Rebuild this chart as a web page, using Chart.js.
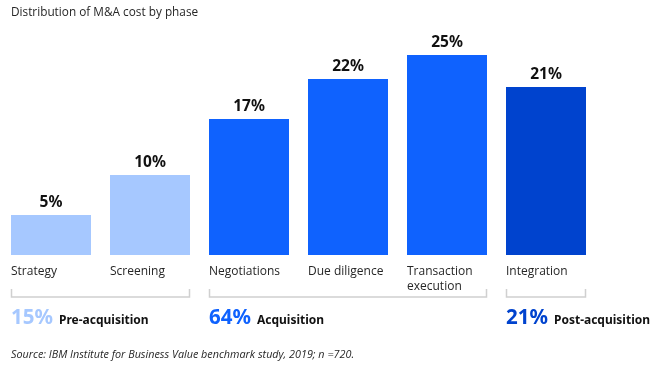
<!DOCTYPE html>
<html><head><meta charset="utf-8">
<script src="https://cdn.jsdelivr.net/npm/chart.js@4/dist/chart.umd.min.js"></script>
<style>html,body{margin:0;padding:0;background:#fff}#wrap{width:657px;height:375px;position:relative}</style>
</head><body><div id="wrap"><canvas id="c"></canvas></div>
<script>
const title = "Distribution of M&A cost by phase";
const source = "Source: IBM Institute for Business Value benchmark study, 2019; n =720.";
const categories = ["Strategy", "Screening", "Negotiations", "Due diligence", ["Transaction", "execution"], "Integration"];
const values = [5, 10, 17, 22, 25, 21];
const barGroup = [0, 0, 1, 1, 1, 2];
const groupNames = ["Pre-acquisition", "Acquisition", "Post-acquisition"];
const groupValues = [15, 64, 21];
const groupColors = ["#a6c8ff", "#0f62fe", "#0043ce"];

const overlay = {
  id: 'overlay',
  afterDraw(chart) {
    const ctx = chart.ctx;
    const meta = chart.getDatasetMeta(0);
    const bottom = chart.chartArea.bottom;
    ctx.save();
    ctx.fillStyle = '#262626';
    ctx.font = '11.8px "Open Sans", sans-serif';
    ctx.textAlign = 'left'; ctx.textBaseline = 'alphabetic';
    ctx.fillText(title, 11, 16);
    meta.data.forEach((bar, i) => {
      const left = bar.x - bar.width / 2;
      ctx.fillStyle = '#111';
      ctx.font = 'bold 15.5px "Noto Sans", sans-serif';
      ctx.textAlign = 'center';
      ctx.fillText(values[i] + '%', bar.x, bar.y - 8);
      ctx.fillStyle = '#262626';
      ctx.font = '12px "Open Sans", sans-serif';
      ctx.textAlign = 'left';
      const lines = Array.isArray(categories[i]) ? categories[i] : [categories[i]];
      lines.forEach((t, k) => ctx.fillText(t, left, bottom + 20 + k * 15));
    });
    groupNames.forEach((name, g) => {
      const idx = barGroup.map((v, i) => v === g ? i : -1).filter(i => i >= 0);
      const b0 = meta.data[idx[0]], b1 = meta.data[idx[idx.length - 1]];
      const x0 = b0.x - b0.width / 2, x1 = b1.x + b1.width / 2;
      const yTop = bottom + 34, yBot = bottom + 42;
      ctx.strokeStyle = '#d0d0d0'; ctx.lineWidth = 1.5;
      ctx.beginPath();
      ctx.moveTo(x0 + 0.5, yTop); ctx.lineTo(x0 + 0.5, yBot); ctx.lineTo(x1 - 0.5, yBot); ctx.lineTo(x1 - 0.5, yTop);
      ctx.stroke();
      ctx.textAlign = 'left';
      ctx.fillStyle = groupColors[g];
      ctx.font = 'bold 20.5px "Noto Sans", sans-serif';
      const pct = groupValues[g] + '%';
      ctx.fillText(pct, x0, bottom + 69);
      const w = ctx.measureText(pct).width;
      ctx.fillStyle = '#111';
      ctx.font = 'bold 12px "Noto Sans", sans-serif';
      ctx.fillText(name, x0 + w + 6, bottom + 69);
    });
    ctx.fillStyle = '#262626';
    ctx.font = 'italic 10.8px "Open Sans", sans-serif';
    ctx.fillText(source, 11, 358);
    ctx.restore();
  }
};

new Chart(document.getElementById('c'), {
  type: 'bar',
  data: {
    labels: categories,
    datasets: [{
      data: values,
      backgroundColor: barGroup.map(g => groupColors[g]),
      borderWidth: 0,
      categoryPercentage: 1,
      barPercentage: 80 / 99
    }]
  },
  options: {
    responsive: true,
    maintainAspectRatio: false,
    animation: false,
    events: [],
    layout: { padding: { left: 1.5, right: 61.5, top: 15, bottom: 120 } },
    plugins: { legend: { display: false }, tooltip: { enabled: false } },
    scales: {
      x: { display: false },
      y: { display: false, min: 0, max: 30 }
    }
  },
  plugins: [overlay]
});
</script></body></html>
